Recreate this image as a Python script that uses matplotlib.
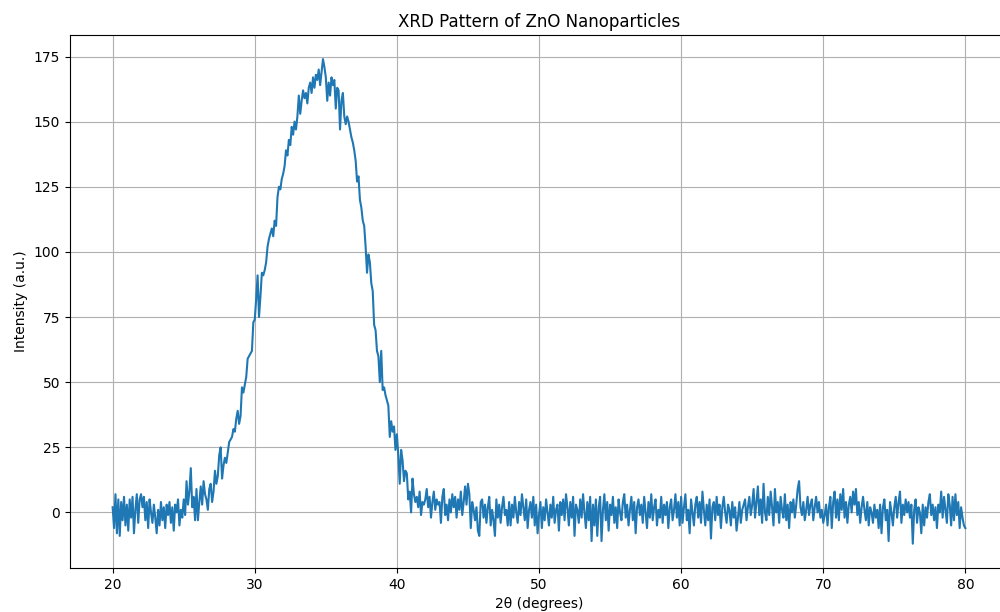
import numpy as np
import matplotlib
matplotlib.use('Agg')
from matplotlib import pyplot as plt

# intensity, one row per degree (step 0.1, 20 -> 80)
intensity = [
  2, -6, 7, -8, 5, -9, 4, -3, 6, -5,            # 20
  3, -7, 5, -2, 6, -8, 1, 7, -4, 5,             # 21
  7, 2, 6, -3, 4, -6, 5, 0, -4, 3,              # 22
  -2, -8, 1, -5, 4, -3, 2, -6, 3, -1,           # 23
  4, -4, 2, -7, 3, 0, 5, -5, 1, -2,             # 24
  5, -1, 12, 3, 8, 17, 2, 6, -3, 9,             # 25
  -3, 4, 10, 3, 12, 7, 5, 1, 9, 11,             # 26
  4, 8, 16, 11, 14, 22, 25, 13, 18, 21,         # 27
  19, 23, 27, 28, 29, 32, 31, 36, 39, 34,       # 28
  37, 48, 46, 49, 52, 59, 60, 61, 62, 73,       # 29
  74, 82, 91, 75, 83, 92, 91, 93, 96, 102,      # 30
  105, 107, 109, 106, 112, 110, 121, 125, 124, 128,  # 31
  130, 133, 139, 137, 143, 141, 148, 145, 150, 147,  # 32
  152, 160, 153, 158, 162, 159, 161, 157, 163, 165,  # 33
  161, 167, 163, 168, 166, 170, 164, 169, 174, 171,  # 34
  167, 158, 165, 160, 167, 164, 166, 155, 163, 162,  # 35
  147, 158, 161, 152, 149, 152, 150, 147, 144, 142,  # 36
  139, 135, 127, 129, 120, 117, 112, 110, 102, 92,   # 37
  99, 96, 88, 85, 72, 70, 62, 60, 50, 62,       # 38
  47, 48, 45, 43, 41, 29, 35, 31, 33, 24,       # 39
  30, 22, 11, 24, 20, 12, 16, 15, 5, 8,         # 40
  0, 13, 7, 4, 6, 2, 8, -1, 4, 3,               # 41
  5, 9, 2, 6, -2, 4, 8, 1, 5, 3,                # 42
  4, -4, 6, 9, -1, 3, -3, 5, 0, 7,              # 43
  2, 6, -2, 5, 1, 8, -1, 4, 10, 3,              # 44
  11, 7, -6, 4, 1, -3, 2, -7, -9, 4,            # 45
  5, -2, 3, -4, 2, 6, -5, 1, -3, -9,            # 46
  5, -2, 3, -4, 2, 6, -1, 1, -5, 4,             # 47
  -5, 3, -2, 6, 0, -4, 4, -1, 7, 2,             # 48
  -3, 5, -6, 1, 4, -2, 6, -5, 3, -8,            # 49
  -1, 4, -6, 2, -3, 5, 0, -5, 3, -2,            # 50
  6, -4, 1, 3, -7, 4, -1, 5, -3, 7,             # 51
  2, -5, 4, -2, 6, -9, 3, 1, -4, 5,             # 52
  -2, 7, 0, -6, 4, -3, 6, -11, 3, -5,           # 53
  5, -9, 2, 6, -11, 1, 7, -3, 4, -7,            # 54
  3, -1, 6, -4, 2, -6, 5, 0, -3, 4,             # 55
  7, -2, 3, -5, 1, 6, -3, 4, -8, 2,             # 56
  5, -1, 3, -4, 6, 0, -6, 4, -2, 7,             # 57
  -3, 2, 5, -5, 1, -2, 6, -4, 3, -1,            # 58
  4, -6, 2, 5, -3, 1, 7, -2, 4, -5,             # 59
  6, -4, 2, 7, -3, 1, -8, 5, 0, -5,             # 60
  3, 6, -2, 4, -4, 8, 1, -5, 3, -3,             # 61
  5, -10, 2, 4, -3, 6, -1, 3, -6, 2,            # 62
  6, 0, -4, 3, 1, -5, 4, -2, 2, -7,             # 63
  -2, 4, -4, 1, 3, 5, -3, 2, 6, -1,             # 64
  3, 9, -2, 4, 10, -1, 5, -4, 11, 0,            # 65
  -3, 6, -1, 8, 2, -5, 9, 0, 4, -4,             # 66
  6, 1, -2, 7, -3, 3, -6, 4, 0, 5,              # 67
  -2, 3, 9, 12, 2, -1, 4, -3, 1, 6,             # 68
  -1, 3, 5, -3, 2, 6, 0, 4, -2, 1,              # 69
  -4, -1, 3, -5, 2, 6, -6, 4, 8, -2,            # 70
  5, -3, 7, 1, 9, -2, 4, -4, 3, 6,              # 71
  0, 8, 3, 9, -1, 4, -4, 2, 6, 1,               # 72
  -3, 4, -5, 2, 0, -4, 3, -2, 1, -6,            # 73
  3, -8, 2, 5, -3, 1, -11, 4, 0, -5,            # 74
  2, 6, -2, 4, 8, -4, 3, -1, 5, 0,              # 75
  4, -2, 3, -12, 1, 5, -4, 2, 0, -8,            # 76
  3, -5, 2, -2, 4, 7, -1, 3, -3, 2,             # 77
  -6, 3, 0, 8, -2, 6, 1, -4, 7, 3,              # 78
  -5, 6, -3, 7, -1, 4, -6, 2, -2, -5,           # 79
  -6,                                           # 80
]
two_theta = np.linspace(20, 80, len(intensity))

fig = plt.figure(figsize=(10, 6.12), dpi=100)
# right spine sits just past the image edge, like the cropped reference
ax = fig.add_axes([0.070, 0.072, 0.938, 0.871])
ax.plot(two_theta, intensity)
ax.set_title('XRD Pattern of ZnO Nanoparticles')
ax.set_xlabel('2θ (degrees)')
ax.set_ylabel('Intensity (a.u.)')
ax.grid(True)

fig.savefig('out.png', dpi=100)
